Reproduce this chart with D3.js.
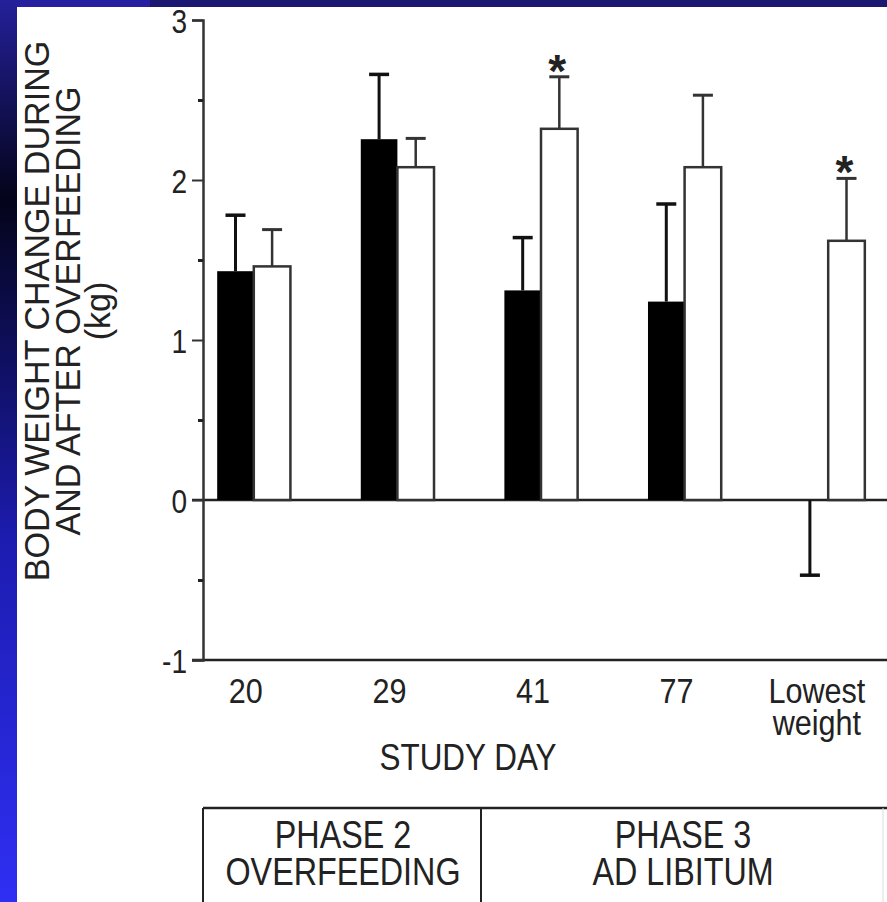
<!DOCTYPE html>
<html>
<head>
<meta charset="utf-8">
<script src="https://cdn.jsdelivr.net/npm/d3@7"></script>
<style>
  html, body { margin: 0; padding: 0; background: #fff; }
  svg { display: block; }
  text { font-family: "Liberation Sans", Arial, Helvetica, sans-serif; fill: #222; }
</style>
</head>
<body>
<div id="chart"></div>
<script>
const W = 887, H = 902;

// data
const days = ["20", "29", "41", "77", "Lowest weight"];
const overfedMean = [1.43, 2.255, 1.31, 1.24, 0];       // black bars
const overfedSem = [0.35, 0.405, 0.33, 0.61, 0.47];
const controlMean = [1.46, 2.08, 2.32, 2.08, 1.62];      // white bars
const controlSem = [0.23, 0.18, 0.325, 0.45, 0.39];
const significant = [false, false, true, false, true];
const yTicks = [-1, 0, 1, 2, 3];
const yMinor = [-0.5, 0.5, 1.5, 2.5];
const phases = [
  ["PHASE 2", "OVERFEEDING"],
  ["PHASE 3", "AD LIBITUM"]
];

const SX = 0.85; // the scanned lettering is narrow, squeeze it a bit

const svg = d3.select("#chart").append("svg")
  .attr("width", W).attr("height", H);

// slide frame: blue band on top, gradient stripe on the left
const defs = svg.append("defs");
const grad = defs.append("linearGradient").attr("id", "stripe")
  .attr("x1", 0).attr("y1", 0).attr("x2", 0).attr("y2", 1);
grad.append("stop").attr("offset", "0%").attr("stop-color", "#24209a");
grad.append("stop").attr("offset", "22%").attr("stop-color", "#04041a");
grad.append("stop").attr("offset", "60%").attr("stop-color", "#1c1cb0");
grad.append("stop").attr("offset", "100%").attr("stop-color", "#2f2ff4");

svg.append("rect").attr("width", W).attr("height", H).attr("fill", "#fff");
svg.append("rect").attr("x", 0).attr("y", 0).attr("width", 150).attr("height", 7).attr("fill", "#2620a0");
svg.append("rect").attr("x", 150).attr("y", 0).attr("width", W - 150).attr("height", 7).attr("fill", "#1a1870");
svg.append("rect").attr("x", 0).attr("y", 0).attr("width", 17).attr("height", H).attr("fill", "url(#stripe)");

const x = d3.scaleBand()
  .domain(days)
  .range([182, 900])
  .paddingInner(0.49)
  .paddingOuter(0.245);
const xs = d3.scaleBand().domain(["over", "ctrl"]).range([0, x.bandwidth()]);
const y = d3.scaleLinear().domain([-1, 3]).range([660, 20]);

const axisX = 203;
const g = svg.append("g");

// multi-line label as one text element with tspans
function label(sel, px, py, lines, size, gap) {
  const t = sel.append("text")
    .attr("transform", `translate(${px},${py}) scale(${SX},1)`)
    .attr("text-anchor", "middle")
    .style("font-size", size + "px");
  [].concat(lines).forEach((l, k) => {
    t.append("tspan").attr("x", 0).attr("dy", k === 0 ? 0 : gap).text(l);
  });
  return t;
}

// baseline at zero and bottom frame line
g.append("line").attr("x1", axisX - 11).attr("x2", W)
  .attr("y1", y(0)).attr("y2", y(0))
  .attr("stroke", "#222").attr("stroke-width", 2.5);
g.append("line").attr("x1", axisX - 11).attr("x2", W)
  .attr("y1", y(-1)).attr("y2", y(-1))
  .attr("stroke", "#222").attr("stroke-width", 2.5);

// y axis
const yAxis = g.append("g").attr("transform", `translate(${axisX},0)`)
  .call(d3.axisLeft(y).tickValues(yTicks).tickSize(11).tickFormat(d => String(d)));
yAxis.select(".domain").attr("stroke", "#333").attr("stroke-width", 2.5);
yAxis.selectAll(".tick line").attr("stroke", "#333").attr("stroke-width", 2);
yAxis.selectAll(".tick text")
  .attr("x", null).attr("dy", null)
  .attr("transform", `translate(-16,12) scale(${SX},1)`)
  .style("font-size", "33px").attr("fill", "#222");

const yMinorAxis = g.append("g").attr("transform", `translate(${axisX},0)`)
  .call(d3.axisLeft(y).tickValues(yMinor).tickSize(5).tickFormat(""));
yMinorAxis.select(".domain").remove();
yMinorAxis.selectAll(".tick line").attr("stroke", "#222").attr("stroke-width", 3);

// bars
const groups = g.selectAll(".grp").data(days).join("g")
  .attr("class", "grp")
  .attr("transform", d => `translate(${x(d)},0)`);

function errorBar(sel, cx, v, sem, color, w) {
  const tip = v > 0 ? v + sem : v - sem;
  sel.append("line").attr("x1", cx).attr("x2", cx)
    .attr("y1", y(v)).attr("y2", y(tip))
    .attr("stroke", color).attr("stroke-width", w);
  sel.append("line").attr("x1", cx - 10).attr("x2", cx + 10)
    .attr("y1", y(tip)).attr("y2", y(tip))
    .attr("stroke", color).attr("stroke-width", w + 0.5);
  return tip;
}

groups.each(function (d, i) {
  const s = d3.select(this);
  const bw = xs.bandwidth();
  // overfed (black)
  const v1 = overfedMean[i];
  if (v1 !== 0) {
    s.append("rect").attr("x", xs("over")).attr("width", bw)
      .attr("y", y(Math.max(v1, 0))).attr("height", Math.abs(y(v1) - y(0)))
      .attr("fill", "#000");
  }
  errorBar(s, xs("over") + bw / 2, v1, overfedSem[i], "#111", 3);
  // control (white)
  const v2 = controlMean[i];
  s.append("rect").attr("x", xs("ctrl")).attr("width", bw)
    .attr("y", y(Math.max(v2, 0))).attr("height", Math.abs(y(v2) - y(0)))
    .attr("fill", "#fff").attr("stroke", "#333").attr("stroke-width", 2.5);
  const tip = errorBar(s, xs("ctrl") + bw / 2, v2, controlSem[i], "#333", 2.5);
  if (significant[i]) {
    s.append("text").attr("x", xs("ctrl") + bw / 2 - 2).attr("y", y(tip) + 10)
      .attr("text-anchor", "middle")
      .style("font-size", "46px").style("font-weight", "bold").attr("fill", "#000")
      .text("*");
  }
});

// x labels
const xl = g.append("g");
days.forEach((d, i) => {
  const words = d === "Lowest weight" ? ["Lowest", "weight"] : [d];
  const cx = i === 4 ? x(d) + xs("over") + xs.bandwidth() / 2 + 7 : x(d) + x.bandwidth() / 2 - 8;
  label(xl, cx, 703, words, 36, 32);
});
label(g, 468, 770, "STUDY DAY", 37);

// y title
const yt = g.append("text").attr("transform", "translate(49,311) rotate(-90) scale(0.975,1)")
  .attr("text-anchor", "middle").style("font-size", "35px");
yt.append("tspan").attr("x", 0).attr("dy", 0).text("BODY WEIGHT CHANGE DURING");
yt.append("tspan").attr("x", 0).attr("dy", 31).text("AND AFTER OVERFEEDING");
yt.append("tspan").attr("x", 0).attr("dy", 30).text("(kg)");

// phase table
const tableTop = 808;
const edges = [axisX, 481, 883];
g.append("line").attr("x1", axisX).attr("x2", W).attr("y1", tableTop).attr("y2", tableTop)
  .attr("stroke", "#222").attr("stroke-width", 2.5);
edges.forEach((ex, k) => {
  g.append("line").attr("x1", ex).attr("x2", ex).attr("y1", tableTop).attr("y2", H)
    .attr("stroke", k === 2 ? "#ddd" : "#222").attr("stroke-width", k === 2 ? 1 : 2);
});
const centres = [(edges[0] + edges[1]) / 2 + 1, (edges[1] + W) / 2 - 1];
phases.forEach((p, k) => label(g, centres[k], 848, p, 38, 37));
</script>
</body>
</html>
